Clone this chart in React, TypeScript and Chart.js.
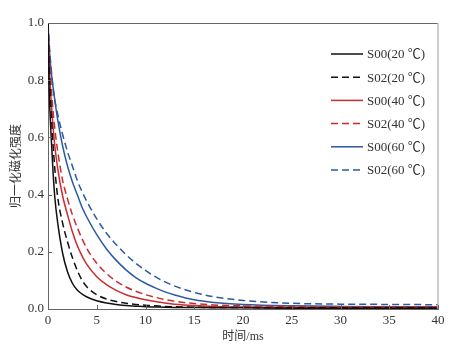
import React, { useEffect, useRef } from 'react';
import { Chart, registerables } from 'chart.js';

Chart.register(...registerables);

// time axis samples (ms)
const times = [0, 0.1, 0.2, 0.3, 0.5, 0.7, 1, 1.5, 2, 2.5, 3, 3.5, 4, 5, 6, 7, 8, 9, 10, 11, 12, 13, 15, 17, 20, 25, 30, 35, 40];

const s00_20 = [1, 0.79, 0.69, 0.62, 0.49, 0.39, 0.30, 0.195, 0.13, 0.09, 0.066, 0.052, 0.042, 0.029, 0.021, 0.016, 0.012, 0.010, 0.008, 0.007, 0.006, 0.0055, 0.005, 0.0045, 0.004, 0.003, 0.003, 0.003, 0.003];
const s02_20 = [1, 0.86, 0.77, 0.70, 0.585, 0.49, 0.39, 0.30, 0.235, 0.18, 0.135, 0.10, 0.077, 0.05, 0.035, 0.026, 0.02, 0.016, 0.013, 0.011, 0.009, 0.008, 0.006, 0.005, 0.005, 0.004, 0.004, 0.004, 0.004];
const s00_40 = [1, 0.88, 0.80, 0.74, 0.645, 0.57, 0.49, 0.395, 0.33, 0.27, 0.222, 0.185, 0.155, 0.113, 0.085, 0.065, 0.05, 0.04, 0.032, 0.026, 0.021, 0.017, 0.012, 0.009, 0.007, 0.006, 0.005, 0.005, 0.005];
const s02_40 = [1, 0.90, 0.84, 0.79, 0.70, 0.63, 0.55, 0.45, 0.385, 0.33, 0.285, 0.245, 0.21, 0.16, 0.124, 0.097, 0.077, 0.062, 0.05, 0.041, 0.033, 0.027, 0.019, 0.014, 0.011, 0.009, 0.008, 0.008, 0.008];
const s00_60 = [1, 0.93, 0.88, 0.84, 0.78, 0.73, 0.66, 0.57, 0.50, 0.445, 0.40, 0.355, 0.32, 0.26, 0.21, 0.17, 0.137, 0.11, 0.09, 0.074, 0.06, 0.049, 0.032, 0.023, 0.016, 0.011, 0.009, 0.008, 0.008];
const s02_60 = [1, 0.94, 0.89, 0.85, 0.78, 0.73, 0.68, 0.61, 0.55, 0.50, 0.45, 0.41, 0.375, 0.315, 0.265, 0.225, 0.19, 0.16, 0.135, 0.113, 0.095, 0.08, 0.058, 0.043, 0.03, 0.02, 0.017, 0.016, 0.015];

const seriesLabels = ['S00(20 ℃)', 'S02(20 ℃)', 'S00(40 ℃)', 'S02(40 ℃)', 'S00(60 ℃)', 'S02(60 ℃)'];
const seriesValues = [s00_20, s02_20, s00_40, s02_40, s00_60, s02_60];
const seriesColors = ['#111111', '#111111', '#cc2b2e', '#cc2b2e', '#2c5aa0', '#2c5aa0'];
const seriesDashed = [false, true, false, true, false, true];

const xTicks = [0, 5, 10, 15, 20, 25, 30, 35, 40];
const yTicks = [0, 0.2, 0.4, 0.6, 0.8, 1.0];

const xTitle = '时间/ms';
const yTitle = '归一化磁化强度';

const FONT = "'Liberation Serif', 'Times New Roman', 'Noto Sans CJK SC', serif";
const DASH = [7, 4];

const framePlugin = {
  id: 'frame',
  afterDraw(chart: any) {
    const { ctx, chartArea } = chart;
    const { left, right, top, bottom } = chartArea;
    ctx.save();
    // top border
    ctx.strokeStyle = '#666666';
    ctx.lineWidth = 1;
    ctx.beginPath();
    ctx.moveTo(left, top + 0.5);
    ctx.lineTo(right, top + 0.5);
    ctx.stroke();
    // right border
    ctx.strokeStyle = '#bbbbbb';
    ctx.lineWidth = 1.5;
    ctx.beginPath();
    ctx.moveTo(right, top);
    ctx.lineTo(right, bottom);
    ctx.stroke();
    // inward ticks
    ctx.strokeStyle = '#666666';
    ctx.lineWidth = 1;
    const xs = chart.scales.x;
    const ys = chart.scales.y;
    xTicks.forEach((v) => {
      const px = Math.round(xs.getPixelForValue(v)) + 0.5;
      ctx.beginPath();
      ctx.moveTo(px, bottom);
      ctx.lineTo(px, bottom - 4);
      ctx.stroke();
    });
    yTicks.forEach((v) => {
      const py = Math.round(ys.getPixelForValue(v)) + 0.5;
      ctx.beginPath();
      ctx.moveTo(left, py);
      ctx.lineTo(left + 4, py);
      ctx.stroke();
    });
    // legend
    const ds = chart.data.datasets;
    ctx.font = `13px ${FONT}`;
    ctx.textBaseline = 'middle';
    ctx.textAlign = 'left';
    ds.forEach((d: any, i: number) => {
      const y = top + 31 + i * 23.2;
      const x0 = right - 107;
      ctx.strokeStyle = d.borderColor;
      ctx.lineWidth = 1.5;
      ctx.setLineDash(d.borderDash || []);
      ctx.beginPath();
      ctx.moveTo(x0, y);
      ctx.lineTo(x0 + 32, y);
      ctx.stroke();
      ctx.setLineDash([]);
      ctx.fillStyle = '#333333';
      ctx.fillText(d.label, x0 + 36, y + 1);
    });
    ctx.restore();
  },
};

export default function App() {
  const ref = useRef<HTMLCanvasElement | null>(null);
  useEffect(() => {
    document.body.style.margin = '0';
    if (!ref.current) return;
    const datasets = seriesValues.map((vals, i) => ({
      label: seriesLabels[i],
      data: vals.map((v, j) => ({ x: times[j], y: v })),
      borderColor: seriesColors[i],
      backgroundColor: seriesColors[i],
      borderWidth: 1.5,
      borderDash: seriesDashed[i] ? DASH : [],
      pointRadius: 0,
      fill: false,
      cubicInterpolationMode: 'monotone' as const,
    }));
    const chart = new Chart(ref.current, {
      type: 'line',
      data: { datasets },
      options: {
        responsive: false,
        animation: false,
        devicePixelRatio: 1,
        layout: { padding: { top: 23, right: 38, left: 0, bottom: 0 } },
        plugins: { legend: { display: false }, tooltip: { enabled: false } },
        scales: {
          x: {
            type: 'linear',
            min: 0,
            max: 40,
            afterFit: (s: any) => { s.height = 45; },
            afterBuildTicks: (s: any) => { s.ticks = xTicks.map((v) => ({ value: v })); },
            grid: { display: true, drawOnChartArea: false, drawTicks: false },
            border: { display: true, color: '#666666', width: 1 },
            ticks: { padding: 4, color: '#333333', font: { family: FONT, size: 13 }, maxRotation: 0 },
            title: { display: true, text: xTitle, color: '#333333', font: { family: FONT, size: 12 }, padding: { top: 0, bottom: 10 } },
          },
          y: {
            type: 'linear',
            min: 0,
            max: 1,
            afterFit: (s: any) => { s.width = 48; },
            afterBuildTicks: (s: any) => { s.ticks = yTicks.map((v) => ({ value: v })); },
            grid: { display: true, drawOnChartArea: false, drawTicks: false },
            border: { display: true, color: '#666666', width: 1 },
            ticks: { padding: 4, color: '#333333', font: { family: FONT, size: 13 }, callback: (v: any) => Number(v).toFixed(1) },
            title: { display: true, text: yTitle, color: '#333333', font: { family: FONT, size: 12 }, padding: { top: 10, bottom: 0 } },
          },
        },
      },
      plugins: [framePlugin],
    });
    return () => chart.destroy();
  }, []);
  return (
    <div style={{ position: 'absolute', left: 0, top: 0, width: 476, height: 354, background: '#fff' }}>
      <canvas ref={ref} width={476} height={354} style={{ width: 476, height: 354, display: 'block' }} />
    </div>
  );
}
